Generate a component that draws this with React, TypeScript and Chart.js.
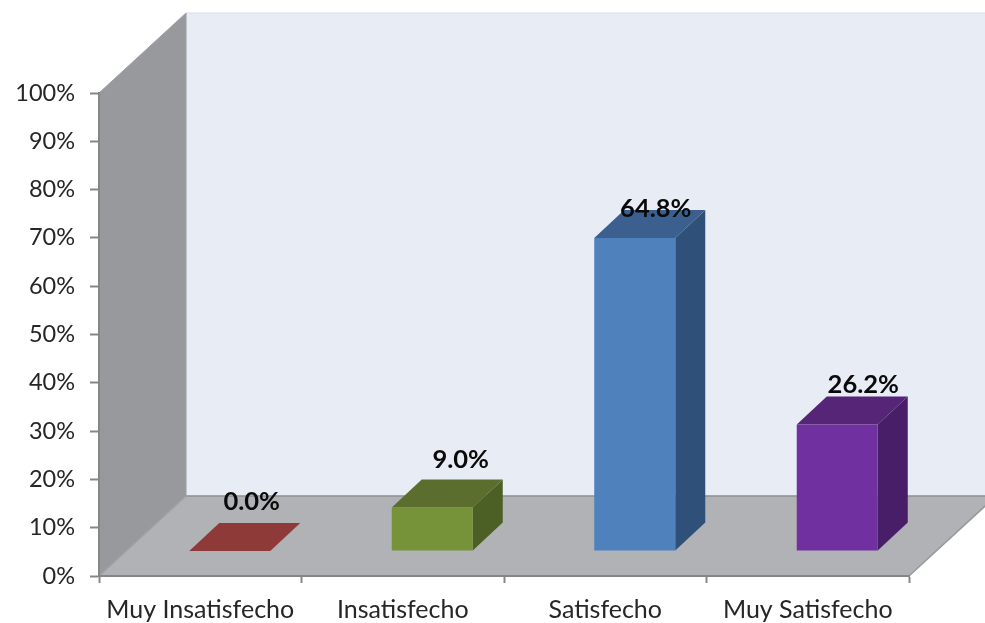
import React, { useEffect, useRef } from "react";
import { Chart, registerables } from "chart.js";

Chart.register(...registerables);

const categories = ["Muy Insatisfecho", "Insatisfecho", "Satisfecho", "Muy Satisfecho"];
const values = [0.0, 9.0, 64.8, 26.2];
const frontColors = ["#c0504d", "#779339", "#4f81bd", "#7030a0"];
const topColors = ["#8e3a38", "#5b6e2e", "#3b608f", "#562578"];
const sideColors = ["#7a302e", "#4c5f25", "#2f5078", "#491e69"];
const labelDx = [22, 28.5, 21, 26];
const labelDy = [-49, -48, -29, -40];

const WALL_DX = 87, WALL_DY = -80;
const BAR_DX = 30, BAR_DY = -28;
const SHIFT_X = 29.5, SHIFT_Y = -25;

function poly(ctx: CanvasRenderingContext2D, pts: number[][], fill: string, stroke?: string) {
  ctx.beginPath();
  pts.forEach((p, i) => (i ? ctx.lineTo(p[0], p[1]) : ctx.moveTo(p[0], p[1])));
  ctx.closePath();
  ctx.fillStyle = fill;
  ctx.fill();
  if (stroke) {
    ctx.strokeStyle = stroke;
    ctx.lineWidth = 1;
    ctx.stroke();
  }
}

const box3d = {
  id: "box3d",
  beforeDraw(chart: any) {
    const { ctx } = chart;
    const x = chart.scales.x, y = chart.scales.y;
    const l = x.left, r = x.right, t = y.top, b = y.bottom;
    ctx.save();
    poly(ctx, [[l + WALL_DX, t + WALL_DY], [r + WALL_DX, t + WALL_DY], [r + WALL_DX, b + WALL_DY], [l + WALL_DX, b + WALL_DY]], "#e8ecf5", "#d9dde6");
    poly(ctx, [[l, t], [l + WALL_DX, t + WALL_DY], [l + WALL_DX, b + WALL_DY], [l, b]], "#98999d", "#9fa0a4");
    poly(ctx, [[l, b], [r, b], [r + WALL_DX, b + WALL_DY], [l + WALL_DX, b + WALL_DY]], "#b0b2b6");
    ctx.strokeStyle = "#8f9093";
    ctx.lineWidth = 1.5;
    ctx.beginPath();
    ctx.moveTo(l + WALL_DX, b + WALL_DY);
    ctx.lineTo(r + WALL_DX, b + WALL_DY);
    ctx.stroke();
    ctx.strokeStyle = "#a0a1a5";
    ctx.beginPath();
    ctx.moveTo(l, b);
    ctx.lineTo(l + WALL_DX, b + WALL_DY);
    ctx.stroke();
    ctx.strokeStyle = "#98999c";
    ctx.beginPath();
    ctx.moveTo(r, b);
    ctx.lineTo(r + WALL_DX, b + WALL_DY);
    ctx.stroke();
    ctx.restore();
  },
  beforeDatasetDraw(chart: any, args: any) {
    const { ctx } = chart;
    ctx.save();
    ctx.translate(SHIFT_X, SHIFT_Y);
    args.meta.data.forEach((el: any, i: number) => {
      const hw = el.width / 2;
      const xl = el.x - hw, xr = el.x + hw, yt = el.y, yb = el.base;
      if (yb - yt > 0.5) {
        poly(ctx, [[xr, yt], [xr + BAR_DX, yt + BAR_DY], [xr + BAR_DX, yb + BAR_DY], [xr, yb]], sideColors[i]);
      }
      poly(ctx, [[xl, yt], [xr, yt], [xr + BAR_DX, yt + BAR_DY], [xl + BAR_DX, yt + BAR_DY]], topColors[i]);
    });
  },
  afterDatasetDraw(chart: any) {
    chart.ctx.restore();
  },
  afterDatasetsDraw(chart: any) {
    const { ctx } = chart;
    const meta = chart.getDatasetMeta(0);
    ctx.save();
    ctx.font = "bold 25.5px Lato";
    ctx.fillStyle = "#0a0a0a";
    ctx.textAlign = "center";
    ctx.textBaseline = "middle";
    meta.data.forEach((el: any, i: number) => {
      ctx.fillText(values[i].toFixed(1) + "%", el.x + SHIFT_X + labelDx[i], el.y + SHIFT_Y + labelDy[i]);
    });
    ctx.restore();
  },
};

export default function App() {
  const ref = useRef<HTMLCanvasElement>(null);
  useEffect(() => {
    const chart = new Chart(ref.current!, {
      type: "bar",
      data: {
        labels: categories,
        datasets: [
          {
            data: values,
            backgroundColor: frontColors,
            borderWidth: 0,
            barPercentage: 0.4,
            categoryPercentage: 1,
            clip: false,
          } as any,
        ],
      },
      options: {
        responsive: false,
        animation: false,
        events: [],
        layout: { padding: { top: 93, right: 76, left: 0, bottom: 0 } },
        plugins: { legend: { display: false }, tooltip: { enabled: false }, title: { display: false } },
        scales: {
          x: {
            afterFit: (s: any) => { s.height = 47; },
            border: { display: true, color: "#868686", width: 2 },
            grid: { display: true, drawOnChartArea: false, drawTicks: true, tickLength: 7, tickWidth: 2, tickColor: "#868686" },
            ticks: {
              color: "#262626",
              font: { family: "Lato", size: 25 },
              padding: 12,
              autoSkip: false,
              maxRotation: 0,
              minRotation: 0,
            },
          },
          y: {
            min: 0,
            max: 100,
            afterFit: (s: any) => { s.width = 99; },
            border: { display: true, color: "#868686", width: 2 },
            grid: { display: true, drawOnChartArea: false, drawTicks: true, tickLength: 9, tickWidth: 2, tickColor: "#868686" },
            ticks: {
              stepSize: 10,
              color: "#262626",
              font: { family: "Lato", size: 23.5 },
              padding: 15,
              callback: (v: any) => v + "%",
            },
          },
        },
      },
      plugins: [box3d],
    } as any);
    return () => chart.destroy();
  }, []);
  return (
    <div style={{ position: "absolute", left: 0, top: 0, width: 985, height: 623, overflow: "hidden", background: "#fff" }}>
      <canvas ref={ref} width={985} height={623} style={{ display: "block", filter: "blur(0.4px)" }} />
    </div>
  );
}
